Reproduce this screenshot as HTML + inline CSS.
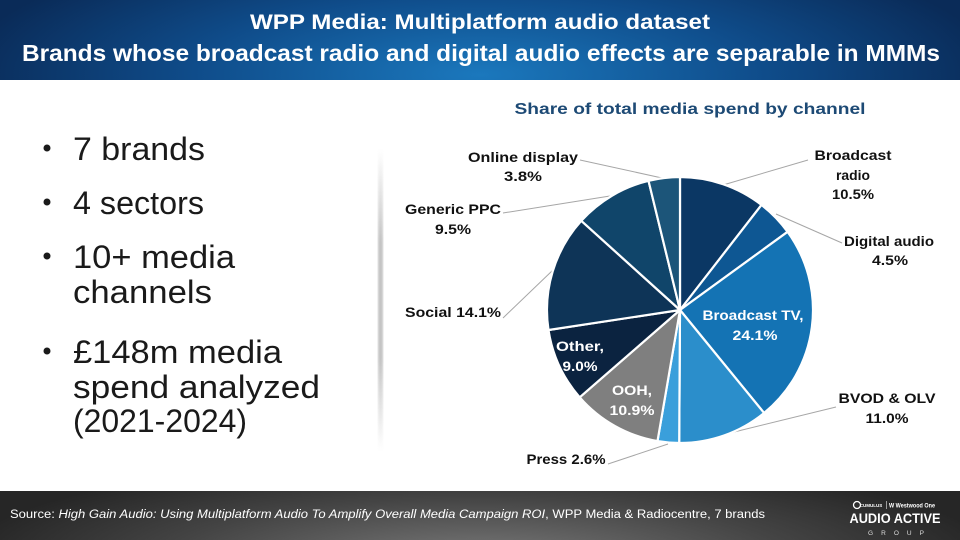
<!DOCTYPE html>
<html><head><meta charset="utf-8"><style>
html,body{margin:0;padding:0;background:#fff;}
svg{display:block;}
text{font-family:"Liberation Sans",Arial,sans-serif;}
</style></head><body>
<svg width="960" height="540" viewBox="0 0 960 540" xmlns="http://www.w3.org/2000/svg">
<defs>
<radialGradient id="hdr" cx="480" cy="75" r="520" gradientUnits="userSpaceOnUse" gradientTransform="translate(480 75) scale(1 0.28) translate(-480 -75)">
<stop offset="0" stop-color="#1b78bd"/><stop offset="0.55" stop-color="#0f4c8a"/><stop offset="1" stop-color="#0a2b58"/>
</radialGradient>
<radialGradient id="ftr" cx="480" cy="560" r="520" gradientUnits="userSpaceOnUse" gradientTransform="translate(480 560) scale(1 0.2) translate(-480 -560)">
<stop offset="0" stop-color="#7a7a7a"/><stop offset="0.6" stop-color="#444"/><stop offset="1" stop-color="#262626"/>
</radialGradient>
<linearGradient id="shv" x1="0" y1="0" x2="0" y2="1">
<stop offset="0" stop-color="#bbb" stop-opacity="0"/><stop offset="0.3" stop-color="#b5b5b5" stop-opacity="0.9"/><stop offset="0.7" stop-color="#b5b5b5" stop-opacity="0.9"/><stop offset="1" stop-color="#bbb" stop-opacity="0"/>
</linearGradient>
<filter id="bl"><feGaussianBlur stdDeviation="1.5"/></filter>
</defs>
<rect x="0" y="0" width="960" height="540" fill="#fff"/>
<!-- header -->
<rect x="0" y="0" width="960" height="80" fill="url(#hdr)"/>
<text x="480" y="29" text-anchor="middle" font-size="21" font-weight="bold" fill="#fff" textLength="460" lengthAdjust="spacingAndGlyphs">WPP Media: Multiplatform audio dataset</text>
<text x="481" y="61" text-anchor="middle" font-size="23" font-weight="bold" fill="#fff" textLength="918" lengthAdjust="spacingAndGlyphs">Brands whose broadcast radio and digital audio effects are separable in MMMs</text>

<!-- shadow divider -->
<rect x="378" y="150" width="5" height="300" fill="url(#shv)" filter="url(#bl)"/>

<!-- bullets -->
<g fill="#1a1a1a" font-size="32">
<circle cx="47" cy="148" r="3.5"/>
<text x="73" y="160" textLength="132" lengthAdjust="spacingAndGlyphs">7 brands</text>
<circle cx="47" cy="202" r="3.5"/>
<text x="73" y="214" textLength="131" lengthAdjust="spacingAndGlyphs">4 sectors</text>
<circle cx="47" cy="256" r="3.5"/>
<text x="73" y="268" textLength="162" lengthAdjust="spacingAndGlyphs">10+ media</text>
<text x="73" y="303" textLength="139" lengthAdjust="spacingAndGlyphs">channels</text>
<circle cx="47" cy="351" r="3.5"/>
<text x="73" y="363" textLength="209" lengthAdjust="spacingAndGlyphs">£148m media</text>
<text x="73" y="398" textLength="247" lengthAdjust="spacingAndGlyphs">spend analyzed</text>
<text x="73" y="432" textLength="174" lengthAdjust="spacingAndGlyphs">(2021-2024)</text>
</g>

<!-- chart title -->
<text x="690" y="114" text-anchor="middle" font-size="16" font-weight="bold" fill="#1d4a75" textLength="351" lengthAdjust="spacingAndGlyphs">Share of total media spend by channel</text>

<!-- leader lines -->
<g stroke="#a6a6a6" stroke-width="1" fill="none">
<polyline points="580,160 662,178"/>
<polyline points="808,160 723,185"/>
<polyline points="776,214 842,243"/>
<polyline points="836,407 730,433"/>
<polyline points="608,464 668,444"/>
<polyline points="503,318 553,270"/>
<polyline points="503,213 610,196"/>
</g>

<!-- pie -->
<g stroke="#fff" stroke-width="2.2" stroke-linejoin="round">
<path d="M680,310 L680,177 A133,133 0 0 1 761.5,204.9 Z" fill="#0b3764"/>
<path d="M680,310 L761.5,204.9 A133,133 0 0 1 787.6,231.8 Z" fill="#0e5793"/>
<path d="M680,310 L787.6,231.8 A133,133 0 0 1 764.1,413.0 Z" fill="#1473b4"/>
<path d="M680,310 L764.1,413.0 A133,133 0 0 1 679.2,443.0 Z" fill="#2b8ecb"/>
<path d="M680,310 L679.2,443.0 A133,133 0 0 1 657.5,441.1 Z" fill="#3a9fdb"/>
<path d="M680,310 L657.5,441.1 A133,133 0 0 1 579.7,397.3 Z" fill="#7f7f7f"/>
<path d="M680,310 L579.7,397.3 A133,133 0 0 1 548.5,330.0 Z" fill="#0b2340"/>
<path d="M680,310 L548.5,330.0 A133,133 0 0 1 581.3,220.8 Z" fill="#0e3457"/>
<path d="M680,310 L581.3,220.8 A133,133 0 0 1 648.5,180.8 Z" fill="#10456a"/>
<path d="M680,310 L648.5,180.8 A133,133 0 0 1 680,177 Z" fill="#1c5579"/>
</g>

<!-- outside labels -->
<g font-size="14" font-weight="bold" fill="#111" text-anchor="middle">
<text x="523" y="162" textLength="110" lengthAdjust="spacingAndGlyphs">Online display</text>
<text x="523" y="181" textLength="38" lengthAdjust="spacingAndGlyphs">3.8%</text>
<text x="853" y="160" textLength="77" lengthAdjust="spacingAndGlyphs">Broadcast</text>
<text x="853" y="180" textLength="34" lengthAdjust="spacingAndGlyphs">radio</text>
<text x="853" y="199" textLength="42" lengthAdjust="spacingAndGlyphs">10.5%</text>
<text x="889" y="246" textLength="90" lengthAdjust="spacingAndGlyphs">Digital audio</text>
<text x="890" y="265" textLength="36" lengthAdjust="spacingAndGlyphs">4.5%</text>
<text x="887" y="403" textLength="97" lengthAdjust="spacingAndGlyphs">BVOD &amp; OLV</text>
<text x="887" y="423" textLength="43" lengthAdjust="spacingAndGlyphs">11.0%</text>
<text x="453" y="214" textLength="96" lengthAdjust="spacingAndGlyphs">Generic PPC</text>
<text x="453" y="234" textLength="36" lengthAdjust="spacingAndGlyphs">9.5%</text>
<text x="566" y="464" textLength="79" lengthAdjust="spacingAndGlyphs">Press 2.6%</text>
<text x="453" y="317" textLength="96" lengthAdjust="spacingAndGlyphs">Social 14.1%</text>
</g>
<!-- inside labels -->
<g font-size="14" font-weight="bold" fill="#fff" text-anchor="middle">
<text x="753" y="320" textLength="101" lengthAdjust="spacingAndGlyphs">Broadcast TV,</text>
<text x="755" y="340" textLength="45" lengthAdjust="spacingAndGlyphs">24.1%</text>
<text x="632" y="395" textLength="40" lengthAdjust="spacingAndGlyphs">OOH,</text>
<text x="632" y="415" textLength="45" lengthAdjust="spacingAndGlyphs">10.9%</text>
<text x="580" y="351" textLength="48" lengthAdjust="spacingAndGlyphs">Other,</text>
<text x="580" y="371" textLength="35" lengthAdjust="spacingAndGlyphs">9.0%</text>
</g>

<!-- footer -->
<rect x="0" y="491" width="960" height="49" fill="url(#ftr)"/>
<text x="10" y="518" font-size="11.5" fill="#fff" textLength="755" lengthAdjust="spacingAndGlyphs">Source: <tspan font-style="italic">High Gain Audio: Using Multiplatform Audio To Amplify Overall Media Campaign ROI</tspan>, WPP Media &amp; Radiocentre, 7 brands</text>
<!-- logo -->
<g fill="#fff" text-anchor="middle">
<circle cx="857" cy="505" r="3.5" fill="none" stroke="#fff" stroke-width="1.3"/>
<text x="871" y="507" font-size="4.5" font-weight="bold">CUMULUS</text>
<rect x="886" y="501" width="0.7" height="8" fill="#ccc"/>
<text x="912" y="507.5" font-size="6" font-weight="bold" textLength="46" lengthAdjust="spacingAndGlyphs">W Westwood One</text>
<text x="895" y="523" font-size="14" font-weight="bold" textLength="91" lengthAdjust="spacingAndGlyphs">AUDIO ACTIVE</text>
<text x="896" y="535" font-size="6.5" fill="#ddd" textLength="56" lengthAdjust="spacing">GROUP</text>
</g>
</svg>
</body></html>
